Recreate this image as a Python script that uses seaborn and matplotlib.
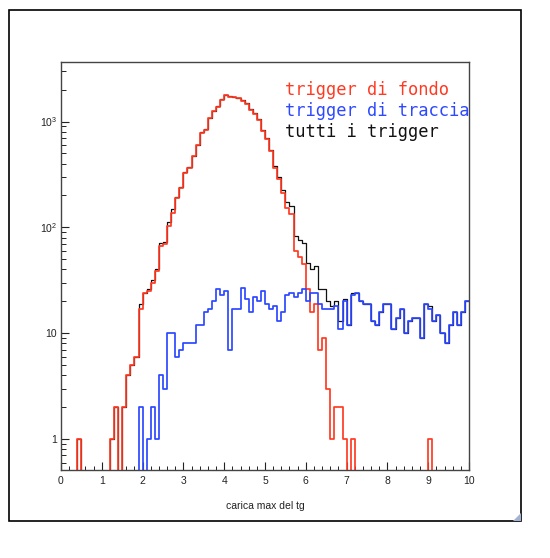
import numpy as np
import pandas as pd
import matplotlib
matplotlib.use("Agg")
import matplotlib.pyplot as plt
import seaborn as sns
from matplotlib.patches import Rectangle, Polygon
from matplotlib.ticker import FixedLocator, MultipleLocator, LogLocator, NullFormatter, FixedFormatter

# ---------------- data (bins of 0.1 from 0 to 10) ----------------
bin_edges = np.round(np.linspace(0.0, 10.0, 101), 2)

fondo = [0, 0, 0, 0, 1, 0, 0, 0, 0, 0,
         0, 0, 1, 2, 0, 2, 4, 5, 6, 17,
         24, 25, 30, 39, 67, 70, 102, 138, 189, 235,
         325, 363, 468, 594, 776, 834, 1074, 1250, 1386, 1604,
         1771, 1720, 1695, 1660, 1578, 1468, 1290, 1182, 1038, 810,
         687, 525, 366, 288, 211, 152, 135, 60, 52, 45,
         26, 16, 19, 7, 9, 3, 1, 2, 2, 1,
         0, 1, 0, 0, 0, 0, 0, 0, 0, 0,
         0, 0, 0, 0, 0, 0, 0, 0, 0, 0,
         1, 0, 0, 0, 0, 0, 0, 0, 0, 0]

traccia = [0, 0, 0, 0, 0, 0, 0, 0, 0, 0,
           0, 0, 0, 0, 0, 0, 0, 0, 0, 2,
           0, 1, 2, 1, 4, 3, 10, 10, 6, 7,
           8, 8, 8, 12, 12, 16, 17, 20, 26, 23,
           25, 7, 17, 17, 27, 21, 16, 22, 20, 25,
           19, 17, 18, 13, 16, 23, 24, 22, 24, 26,
           20, 24, 24, 19, 17, 17, 17, 18, 11, 20,
           12, 23, 24, 20, 19, 19, 13, 12, 16, 19,
           19, 11, 14, 17, 10, 13, 14, 14, 9, 19,
           17, 13, 15, 10, 8, 12, 16, 12, 16, 20]

tutti = [0, 0, 0, 0, 1, 0, 0, 0, 0, 0,
         0, 0, 1, 2, 0, 2, 4, 5, 6, 19,
         24, 26, 32, 40, 71, 73, 112, 148, 195, 242,
         333, 371, 476, 606, 788, 850, 1091, 1270, 1412, 1627,
         1796, 1727, 1712, 1677, 1605, 1489, 1306, 1204, 1058, 835,
         706, 542, 384, 301, 227, 175, 159, 82, 76, 71,
         46, 40, 43, 26, 26, 20, 18, 20, 13, 21,
         12, 24, 24, 20, 19, 19, 13, 12, 16, 19,
         19, 11, 14, 17, 10, 13, 14, 14, 9, 19,
         18, 13, 15, 10, 8, 12, 16, 12, 16, 20]

labels = ["trigger di fondo", "trigger di traccia", "tutti i trigger"]
y_tick_values = [1, 10, 100, 1000]
y_tick_labels = ["1", "10", r"$\mathregular{10^{2}}$", r"$\mathregular{10^{3}}$"]
x_tick_values = list(range(0, 11))
x_label = "carica max del tg"

RED = "#ff3a22"
BLUE = "#2d48ff"
BLACK = "#111111"

# ---------------- figure ----------------
sns.set_theme(style="white")
plt.rcParams['font.family'] = ['Liberation Sans', 'DejaVu Sans']

W, H = 550, 558
fig = plt.figure(figsize=(W / 100, H / 100), dpi=100)
fig.patch.set_facecolor("white")

# outer page frame
fig.add_artist(Rectangle((9 / W, 1 - 521 / H), 512 / W, 511 / H,
                         transform=fig.transFigure, fill=False,
                         edgecolor="black", linewidth=1.2))
fig.add_artist(Polygon([(513 / W, 1 - 521 / H), (521 / W, 1 - 521 / H), (521 / W, 1 - 513 / H)],
                       closed=True, transform=fig.transFigure,
                       facecolor="#a3b2d2", edgecolor="none"))

ax = fig.add_axes([61 / W, 1 - 470 / H, 408 / W, 408 / H])
ax.set_facecolor("white")

centers = (bin_edges[:-1] + bin_edges[1:]) / 2
df = pd.DataFrame({"x": centers, "fondo": fondo, "traccia": traccia, "tutti": tutti})

for col, color, lw in [("tutti", BLACK, 0.9), ("fondo", RED, 1.25), ("traccia", BLUE, 1.25)]:
    sns.histplot(data=df, x="x", weights=col, bins=len(bin_edges) - 1,
                 binrange=(bin_edges[0], bin_edges[-1]), element="step",
                 fill=False, color=color, linewidth=lw, ax=ax)

ax.set_yscale("log")
ax.set_xlim(0, 10)
ax.set_ylim(0.51, 3650)

# ticks
ax.xaxis.set_major_locator(FixedLocator(x_tick_values))
ax.xaxis.set_minor_locator(MultipleLocator(0.2))
ax.yaxis.set_major_locator(FixedLocator(y_tick_values))
ax.yaxis.set_major_formatter(FixedFormatter(y_tick_labels))
ax.yaxis.set_minor_locator(LogLocator(base=10, subs=np.arange(2, 10), numticks=20))
ax.yaxis.set_minor_formatter(NullFormatter())

ax.tick_params(axis="x", which="major", direction="in", length=5.8, width=0.8,
               color="#222222", labelsize=7.5, labelcolor="#222222", pad=4,
               bottom=True, top=False)
ax.tick_params(axis="x", which="minor", direction="in", length=2.9, width=0.7,
               color="#222222", bottom=True, top=False)
ax.tick_params(axis="y", which="major", direction="in", length=5.8, width=0.8,
               color="#222222", labelsize=7.5, labelcolor="#222222", pad=3,
               left=True, right=False)
ax.tick_params(axis="y", which="minor", direction="in", length=3.6, width=0.7,
               color="#222222", left=True, right=False)

for s in ax.spines.values():
    s.set_visible(True)
    s.set_color("#444444")
    s.set_linewidth(1.0)

ax.set_ylabel("")
ax.set_xlabel(x_label, fontsize=7.5, color="#222222", labelpad=11)
ax.grid(False)

# legend-like texts
for lab, color, yy in zip(labels, [RED, BLUE, BLACK], [90, 111, 132]):
    ax.text((285 - 61) / 408, (470 - yy) / 408, lab, transform=ax.transAxes,
            color=color, fontsize=12.3, family=["DejaVu Sans Mono"],
            ha="left", va="center")

fig.savefig("out.png", dpi=100, facecolor="white")
